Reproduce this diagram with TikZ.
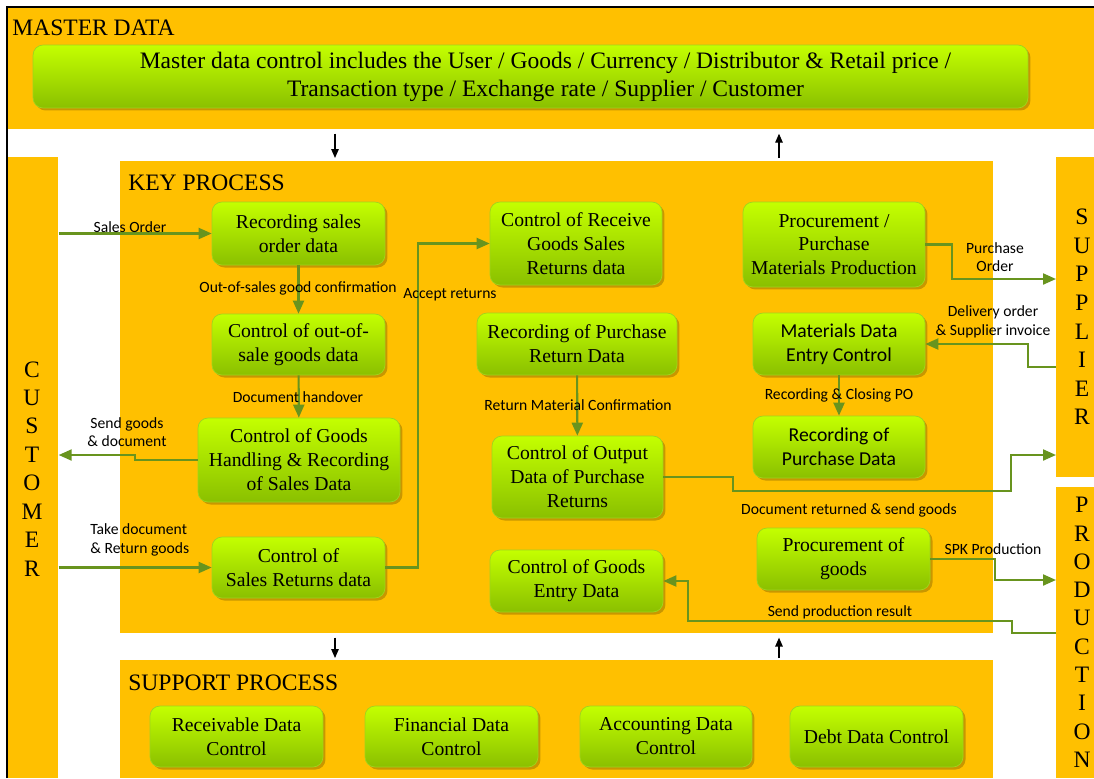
\documentclass[tikz,border=0pt]{standalone}
\usepackage{fontspec}
\setmainfont{Liberation Serif}
\newfontfamily\lblfont{Carlito}
\definecolor{bandorange}{RGB}{255,192,0}
\definecolor{boxtop}{RGB}{196,255,0}
\definecolor{boxbottom}{RGB}{138,192,0}
\definecolor{boxedge}{RGB}{160,212,30}
\definecolor{flowgreen}{RGB}{104,148,30}
\usetikzlibrary{arrows.meta, shadows, positioning, calc}

\begin{document}
\begin{tikzpicture}[x=0.02cm, y=-0.02cm, >=Latex,
    band/.style={fill=bandorange, draw=none, inner sep=0pt, anchor=north west},
    proc/.style={rounded corners=0.2cm, top color=boxtop, bottom color=boxbottom,
      draw=boxedge, line width=0.4pt, align=center, inner sep=0pt,
      font=\fontsize{11.2}{13.6}\selectfont,
      drop shadow={shadow xshift=0.05cm, shadow yshift=-0.05cm, opacity=0.3, fill=black!70!bandorange}},
    sproc/.style={proc, font=\lblfont\fontsize{11.2}{13.6}\selectfont},
    flow/.style={draw=flowgreen, line width=1.2pt, -{Triangle[length=0.26cm,width=0.22cm]}},
    tip/.style={draw=black, line width=0.75pt, -{Triangle[length=0.18cm,width=0.15cm]}},
    lbl/.style={inner sep=0pt, align=center, font=\lblfont\fontsize{8.9}{10.5}\selectfont},
    title/.style={inner sep=0pt, anchor=base west, font=\fontsize{13.4}{16}\selectfont},
    side/.style={inner sep=0pt, font=\fontsize{13.4}{16}\selectfont}]
  \useasboundingbox (0,0) rectangle (1094,778);
  % Bands
  \node[band, minimum width=21.72cm, minimum height=2.42cm] (master) at (8,8) {};
  \node[band, minimum width=1.0cm, minimum height=12.42cm] (cust) at (8,157) {};
  \node[band, minimum width=17.46cm, minimum height=9.44cm] (key) at (120,161) {};
  \node[band, minimum width=0.76cm, minimum height=6.40cm] (sup) at (1056,157) {};
  \node[band, minimum width=0.76cm, minimum height=5.82cm] (prod) at (1056,487) {};
  \node[band, minimum width=17.46cm, minimum height=2.36cm] (support) at (120,660) {};
  \draw[line width=1.2pt] (7,778) -- (7,7) -- (1094,7);
  % Titles
  \node[title] (tmaster) at (12,35) {MASTER DATA};
  \node[title] (tkey) at (128,190) {KEY PROCESS};
  \node[title] (tsupport) at (128,690) {SUPPORT PROCESS};
  \foreach \l [count=\i from 0] in {C,U,S,T,O,M,E,R}
    \node[side] (cu\i) at (32,369.5+28.4*\i) {\l};
  \foreach \l [count=\i from 0] in {S,U,P,P,L,I,E,R}
    \node[side] (su\i) at (1082,217+28.6*\i) {\l};
  \foreach \l [count=\i from 0] in {P,R,O,D,U,C,T,I,O,N}
    \node[side] (pr\i) at (1082,505+28.3*\i) {\l};
  % Between the bands
  \draw[tip, shorten <=0.08cm, shorten >=0.06cm] (master.south -| 335,0) -- (key.north -| 335,0);
  \draw[tip, shorten <=0.06cm, shorten >=0.08cm] (key.north -| 779,0) -- (master.south -| 779,0);
  \draw[tip, shorten <=0.08cm, shorten >=0.04cm] (key.south -| 335,0) -- (support.north -| 335,0);
  \draw[tip, shorten <=0.04cm, shorten >=0.08cm] (support.north -| 779,0) -- (key.south -| 779,0);
  % Master data
  \node[proc, minimum width=19.9cm, minimum height=1.26cm, font=\fontsize{13.4}{15.9}\selectfont] (mdc) at (530.5,76.5)
    {\hspace*{0.6cm}Master data control includes the User / Goods / Currency / Distributor \& Retail price /\\
     \hspace*{0.6cm}Transaction type / Exchange rate / Supplier / Customer};
  % Key process
  \node[proc, minimum width=3.46cm, minimum height=1.26cm] (recsales) at (298.5,233.5) {Recording sales\\order data};
  \node[proc, minimum width=3.46cm, minimum height=1.22cm] (outsale) at (298.5,344.5) {Control of out-of-\\sale goods data};
  \node[proc, minimum width=4.04cm, minimum height=1.68cm] (handling) at (299,460) {Control of Goods\\Handling \& Recording\\of Sales Data};
  \node[proc, minimum width=3.46cm, minimum height=1.22cm] (salesret) at (298.5,567.5) {Control of\\Sales Returns data};
  \node[proc, minimum width=3.44cm, minimum height=1.66cm] (recvret) at (576,243.5) {Control of Receive\\Goods Sales\\Returns data};
  \node[proc, minimum width=4.0cm, minimum height=1.24cm] (purchret) at (577,344) {Recording of Purchase\\Return Data};
  \node[proc, minimum width=3.42cm, minimum height=1.64cm] (output) at (577.5,477) {Control of Output\\Data of Purchase\\Returns};
  \node[proc, minimum width=3.46cm, minimum height=1.24cm] (entry) at (576.5,581) {Control of Goods\\Entry Data};
  \node[proc, minimum width=3.64cm, minimum height=1.70cm] (purch) at (834,244.5) {Procurement /\\Purchase\\Materials Production};
  \node[sproc, minimum width=3.44cm, minimum height=1.24cm] (matentry) at (839,344) {Materials Data\\Entry Control};
  \node[sproc, minimum width=3.44cm, minimum height=1.24cm] (recpurch) at (839,447) {Recording of\\Purchase Data};
  \node[proc, minimum width=3.46cm, minimum height=1.24cm] (procgoods) at (843.5,559) {Procurement of\\goods};
  % Support process
  \node[proc, minimum width=3.46cm, minimum height=1.22cm] (receivable) at (236.5,736.5) {Receivable Data\\Control};
  \node[proc, minimum width=3.46cm, minimum height=1.22cm] (financial) at (451.5,736.5) {Financial Data\\Control};
  \node[proc, minimum width=3.44cm, minimum height=1.22cm] (accounting) at (666,736.5) {Accounting Data\\Control};
  \node[proc, minimum width=3.46cm, minimum height=1.22cm] (debt) at (876.5,736.5) {Debt Data Control};
  % Flows
  \draw[flow] (cust.east |- recsales) -- (recsales.west);
  \draw[flow] (recsales) -- (outsale);
  \draw[flow] (outsale) -- (handling);
  \draw[flow] (handling.west) -- ++(-63,0) -- ++(0,-5) -- (cust.east |- 0,455);
  \draw[flow] (cust.east |- salesret) -- (salesret.west);
  \draw[flow] (salesret.east) -- ++(33,0) |- (recvret.west);
  \draw[flow] (purchret) -- (output);
  \draw[flow] (output.east) -| (733,491) -| (1011,455) -- (sup.west |- 0,455);
  \draw[flow] (purch.east) -- ++(27,0) |- (sup.west |- 0,279);
  \draw[flow] (sup.west |- 0,367) -- ++(-28,0) |- (matentry.east);
  \draw[flow] (matentry) -- (recpurch);
  \draw[flow] (procgoods.east) -- ++(65,0) |- (prod.west |- 0,580);
  \draw[flow] (prod.west |- 0,633) -| (1012,621) -| (688,581) -- (entry.east);
  % Flow labels
  \node[lbl] (lsales) at (130,227) {Sales Order};
  \node[lbl] (lconfirm) at (298,288) {Out-of-sales good confirmation};
  \node[lbl] (laccept) at (450,295) {Accept returns};
  \node[lbl] (lhandover) at (298,397) {Document handover};
  \node[lbl] (lsend) at (127,432) {Send goods\\\& document};
  \node[lbl, anchor=west, align=left] (ltake) at (90,540) {Take document\\\& Return goods};
  \node[lbl] (lreturn) at (578,405) {Return Material Confirmation};
  \node[lbl] (lorder) at (995,257) {Purchase\\Order};
  \node[lbl] (ldelivery) at (993,322) {Delivery order\\\& Supplier invoice};
  \node[lbl] (lclosing) at (839,395) {Recording \& Closing PO};
  \node[lbl] (ldocret) at (849,510) {Document returned \& send goods};
  \node[lbl] (lspk) at (993,549) {SPK Production};
  \node[lbl] (lresult) at (840,612) {Send production result};
\end{tikzpicture}
\end{document}
